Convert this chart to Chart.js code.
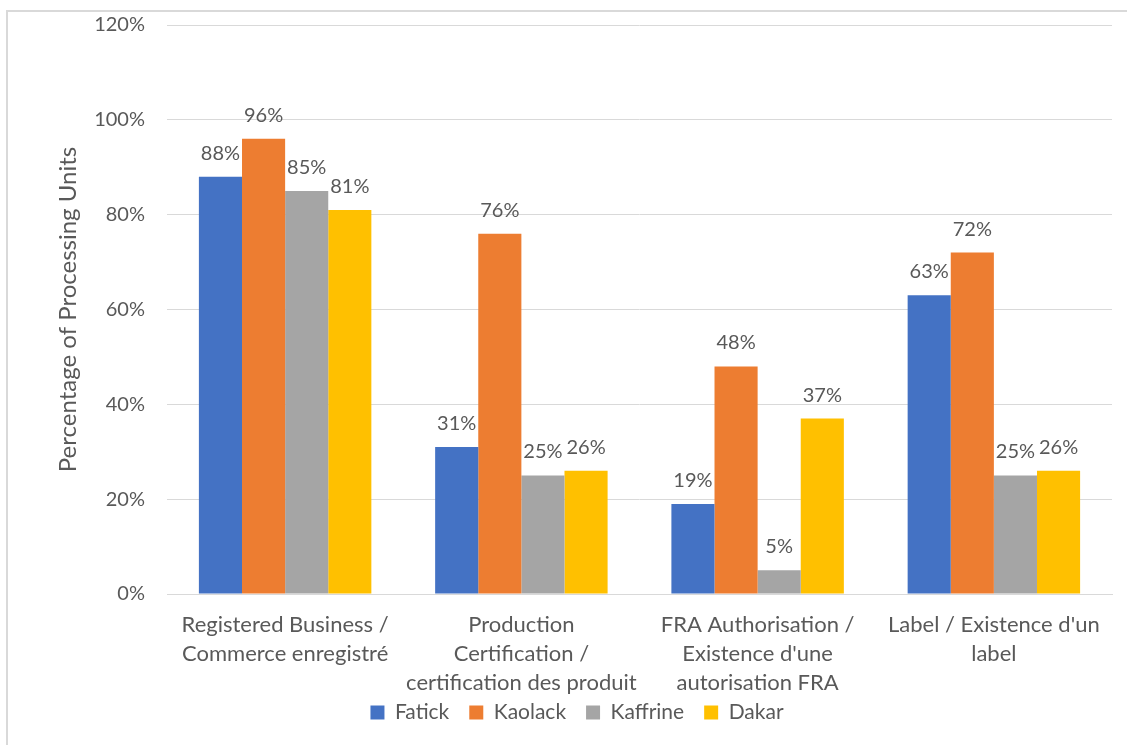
<!DOCTYPE html>
<html lang="en">
<head>
    <meta charset="UTF-8">
    <title>Processing Units</title>
    <script src="https://cdn.jsdelivr.net/npm/chart.js"></script>
    <style>
        html, body { margin: 0; padding: 0; background: #fff; overflow: hidden; }
        #frame { position: absolute; left: 6px; top: 10px; width: 1300px; height: 900px; border: 2px solid #d9d9d9; }
        #wrap { position: absolute; left: 0; top: 0; width: 1127px; height: 745px; }
    </style>
</head>
<body>
    <div id="frame"></div>
    <div id="wrap"><canvas id="myChart"></canvas></div>
    <script>
        const categories = [
            ['Registered Business /', 'Commerce enregistré'],
            ['Production', 'Certification /', 'certification des produit'],
            ['FRA Authorisation /', "Existence d'une", 'autorisation FRA'],
            ["Label / Existence d'un", 'label']
        ];
        const fatick = [88, 31, 19, 63];
        const kaolack = [96, 76, 48, 72];
        const kaffrine = [85, 25, 5, 25];
        const dakar = [81, 26, 37, 26];
        const yTicks = [0, 20, 40, 60, 80, 100, 120];

        const textColor = '#595959';
        const fontFamily = 'Lato, "Noto Sans", sans-serif';

        // value labels above each bar
        const barLabels = {
            id: 'barLabels',
            afterDatasetsDraw(chart) {
                const ctx = chart.ctx;
                ctx.save();
                ctx.fillStyle = textColor;
                ctx.font = '20px ' + fontFamily;
                ctx.textAlign = 'center';
                ctx.textBaseline = 'alphabetic';
                chart.data.datasets.forEach((ds, i) => {
                    chart.getDatasetMeta(i).data.forEach((bar, j) => {
                        ctx.fillText(ds.data[j] + '%', bar.x, bar.y - 17);
                    });
                });
                ctx.restore();
            }
        };

        // pull the legend up so it sits just under the last label line
        const legendNudge = {
            id: 'legendNudge',
            afterLayout(chart) {
                const lg = chart.legend;
                if (lg) { lg.top -= 12; lg.bottom -= 12; }
            }
        };

        const ctx = document.getElementById('myChart').getContext('2d');
        const myChart = new Chart(ctx, {
            type: 'bar',
            data: {
                labels: categories,
                datasets: [
                    { label: 'Fatick', data: fatick, backgroundColor: '#4472C4' },
                    { label: 'Kaolack', data: kaolack, backgroundColor: '#ED7D31' },
                    { label: 'Kaffrine', data: kaffrine, backgroundColor: '#A5A5A5' },
                    { label: 'Dakar', data: dakar, backgroundColor: '#FFC000' }
                ]
            },
            options: {
                responsive: true,
                maintainAspectRatio: false,
                animation: false,
                datasets: {
                    bar: { categoryPercentage: 0.73, barPercentage: 1.0, borderWidth: 0 }
                },
                layout: { padding: { left: 42, right: 15, top: 25, bottom: 0 } },
                plugins: {
                    tooltip: { enabled: false },
                    legend: {
                        position: 'bottom',
                        labels: {
                            color: textColor,
                            font: { family: fontFamily, size: 21 },
                            boxWidth: 14,
                            boxHeight: 14,
                            padding: 20
                        }
                    }
                },
                scales: {
                    x: {
                        grid: { display: false },
                        border: { color: '#d9d9d9', width: 1 },
                        ticks: {
                            color: textColor,
                            font: { family: fontFamily, size: 22, lineHeight: 1.32 },
                            maxRotation: 0,
                            autoSkip: false,
                            padding: 8
                        },
                        afterFit(scale) { scale.height = 100; }
                    },
                    y: {
                        min: 0,
                        max: 120,
                        afterBuildTicks(scale) { scale.ticks = yTicks.map(v => ({ value: v })); },
                        grid: { color: '#d9d9d9', drawTicks: false },
                        border: { display: false },
                        ticks: {
                            color: textColor,
                            // small lineHeight keeps the tick padding from pushing the plot top down
                            font: { family: fontFamily, size: 20, lineHeight: 0.3 },
                            padding: 22,
                            callback: v => v + '%'
                        },
                        title: {
                            display: true,
                            text: 'Percentage of Processing Units',
                            color: textColor,
                            font: { family: fontFamily, size: 24 },
                            padding: { top: 12, bottom: 0 }
                        },
                        afterFit(scale) { scale.width = 125; }
                    }
                }
            },
            plugins: [barLabels, legendNudge]
        });
    </script>
</body>
</html>
